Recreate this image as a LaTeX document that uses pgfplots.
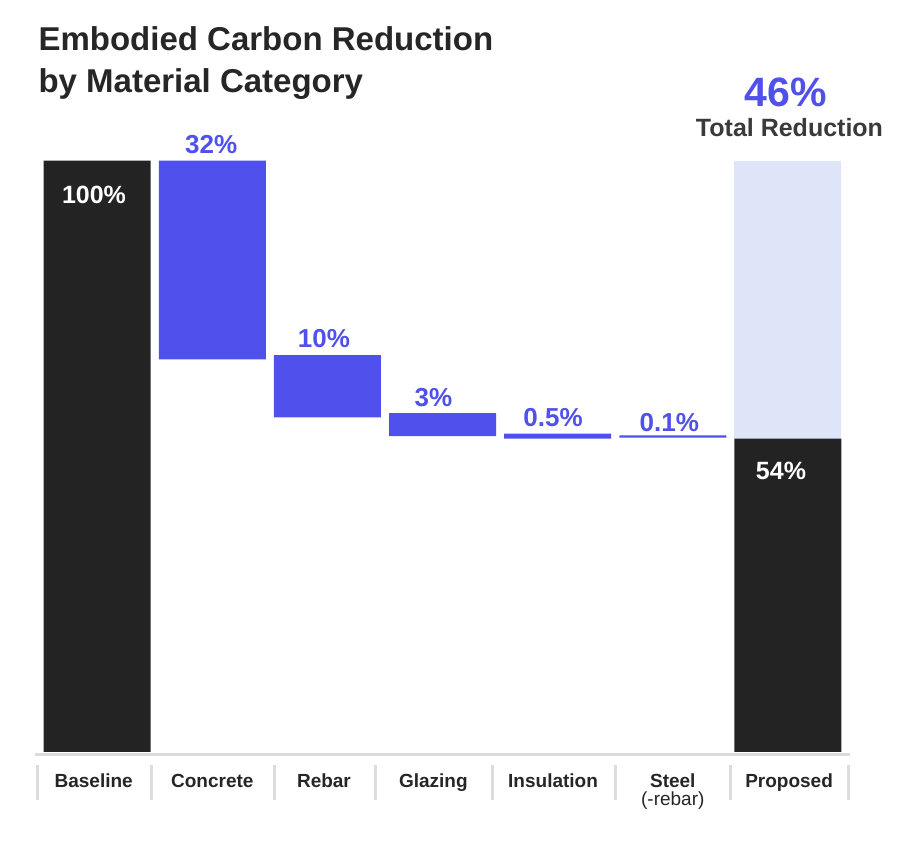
\documentclass[border=0pt]{standalone}
\usepackage{pgfplots}
\pgfplotsset{compat=1.18}
\usepackage{fontspec}
\setmainfont{Liberation Sans}

\definecolor{barDark}{HTML}{232323}
\definecolor{barBlue}{HTML}{5050EC}
\definecolor{barLight}{HTML}{DEE5F9}
\definecolor{sepGray}{HTML}{DCDCDC}
\definecolor{txtDark}{HTML}{262626}
\definecolor{txtGray}{HTML}{3A3A3A}

\begin{document}
\begin{tikzpicture}[x=1pt,y=1pt]
\path[use as bounding box] (0,0) rectangle (908,850);

% title
\node[anchor=base west, font=\bfseries\fontsize{33}{38}\selectfont, text=txtDark] at (35,799.3) {Embodied Carbon Reduction};
\node[anchor=base west, font=\bfseries\fontsize{33}{38}\selectfont, text=txtDark] at (35,757.3) {by Material Category};

\begin{axis}[
    at={(39.6pt,98pt)}, anchor=south west,
    scale only axis, width=805.9pt, height=591.3pt,
    xmin=-0.5, xmax=6.5, ymin=0, ymax=100,
    ybar stacked, bar width=107pt,
    axis line style={draw=none}, major tick length=0pt,
    ytick=\empty,
    xtick={-0.03,1,1.97,2.92,3.96,5,6.01},
    xticklabels={Baseline,Concrete,Rebar,Glazing,Insulation,Steel,Proposed},
    xticklabel style={anchor=base, yshift=-36pt, text=txtDark,
        font=\bfseries\fontsize{19}{22}\selectfont},
    clip=false,
]
% invisible offsets for the floating bars
\addplot[draw=none, fill=none] coordinates {
    (0,0) (1,66.4) (2,56.6) (3,53.4) (4,53.0) (5,53.15) (6,0)};
% baseline / proposed
\addplot[draw=none, fill=barDark] coordinates {
    (0,100) (1,0) (2,0) (3,0) (4,0) (5,0) (6,53.0)};
% reductions
\addplot[draw=none, fill=barBlue] coordinates {
    (0,0) (1,33.6) (2,10.5) (3,3.9) (4,0.85) (5,0.4) (6,0)};
% total reduction
\addplot[draw=none, fill=barLight] coordinates {
    (0,0) (1,0) (2,0) (3,0) (4,0) (5,0) (6,47.0)};

\node[anchor=base, text=barBlue, font=\bfseries\fontsize{26}{30}\selectfont, yshift=6.7pt] at (axis cs:0.99,100) {32\%};
\node[anchor=base, text=barBlue, font=\bfseries\fontsize{26}{30}\selectfont, yshift=8pt] at (axis cs:1.97,67.1) {10\%};
\node[anchor=base, text=barBlue, font=\bfseries\fontsize{26}{30}\selectfont, yshift=6.3pt] at (axis cs:2.92,57.3) {3\%};
\node[anchor=base, text=barBlue, font=\bfseries\fontsize{26}{30}\selectfont, yshift=6.8pt] at (axis cs:3.96,53.85) {0.5\%};
\node[anchor=base, text=barBlue, font=\bfseries\fontsize{26}{30}\selectfont, yshift=3.5pt] at (axis cs:4.97,53.55) {0.1\%};
\node[anchor=base, text=txtDark, font=\fontsize{19}{22}\selectfont, yshift=-54pt] at (axis cs:5,0) {(-rebar)};
\end{axis}

% labels inside the dark bars
\node[anchor=base, text=white, font=\bfseries\fontsize{25}{29}\selectfont] at (94,646) {100\%};
\node[anchor=base, text=white, font=\bfseries\fontsize{25}{29}\selectfont] at (781,370) {54\%};

% baseline rule and category separators
\fill[sepGray] (35,94) rectangle (850,97);
\foreach \x in {37,151,274,375,492,615,730,848}
    \fill[sepGray] (\x-1.5,50) rectangle (\x+1.5,85);

% total reduction callout
\node[anchor=base, font=\bfseries\fontsize{41}{45}\selectfont, text=barBlue] at (785.5,743.3) {46\%};
\node[anchor=base, font=\bfseries\fontsize{25}{29}\selectfont, text=txtGray] at (789.5,713.3) {Total Reduction};
\end{tikzpicture}
\end{document}
